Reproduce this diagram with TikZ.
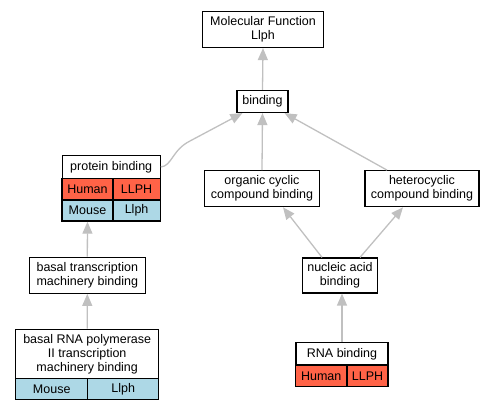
\documentclass[tikz,border=0pt]{standalone}
\usepackage{fontspec}
\setmainfont{Liberation Sans}
\usetikzlibrary{arrows.meta}
\definecolor{edgegray}{RGB}{192,192,192}
\definecolor{human}{RGB}{255,99,71}
\definecolor{mouse}{RGB}{173,216,230}
\tikzset{
  box/.style={draw=black, line width=1.2pt, fill=white, inner sep=0pt, align=center,
    font=\fontsize{12.5}{14}\selectfont},
  cellbox/.style={draw=black, line width=1.2pt, inner sep=0pt, align=center,
    font=\fontsize{12.5}{14}\selectfont},
  humancell/.style={cellbox, fill=human},
  mousecell/.style={cellbox, fill=mouse},
  edge/.style={draw=edgegray, line width=1.3pt, -{Triangle[length=12pt,width=10pt]}},
}
\begin{document}
\begin{tikzpicture}[x=1pt,y=-1pt]
\useasboundingbox (0,0) rectangle (496,411);
% plain boxes
\node[box, minimum width=121pt, minimum height=36pt] (mf) at (263,29.5) {Molecular Function\\Llph};
\node[box, minimum width=51pt, minimum height=22pt] (binding) at (262.5,101.5) {binding};
\node[box, minimum width=115pt, minimum height=36pt] (organic) at (262,188.7) {organic cyclic\\compound binding};
\node[box, minimum width=114pt, minimum height=36pt] (hetero) at (422,188.7) {heterocyclic\\compound binding};
\node[box, minimum width=116pt, minimum height=36pt] (basaltr) at (87.3,275.3) {basal transcription\\machinery binding};
\node[box, minimum width=75pt, minimum height=35pt] (nucleic) at (340,275.5) {nucleic acid\\binding};
% protein binding table
\node[box, minimum width=98pt, minimum height=22.5pt] (protein) at (111.2,167) {protein binding};
\node[humancell, minimum width=51pt, minimum height=22pt] (pbhuman) at (87.5,189.2) {Human};
\node[humancell, minimum width=47pt, minimum height=22pt] (pbllph) at (136.6,189.2) {LLPH};
\node[mousecell, minimum width=51pt, minimum height=21pt] (pbmouse) at (87.5,210.6) {Mouse};
\node[mousecell, minimum width=47pt, minimum height=21pt] (pbllphm) at (136.6,210.6) {Llph};
% basal RNA polymerase table
\node[box, minimum width=143pt, minimum height=49pt] (basalrna) at (87.2,353.8) {basal RNA polymerase\\II transcription\\machinery binding};
\node[mousecell, minimum width=72pt, minimum height=21pt] (brmouse) at (51.7,388.8) {Mouse};
\node[mousecell, minimum width=71pt, minimum height=21pt] (brllph) at (123.2,388.8) {Llph};
% RNA binding table
\node[box, minimum width=92pt, minimum height=22.5pt] (rna) at (342,354) {RNA binding};
\node[humancell, minimum width=51pt, minimum height=21.5pt] (rnahuman) at (321.2,375.8) {Human};
\node[humancell, minimum width=41pt, minimum height=21.5pt] (rnallph) at (367.5,375.8) {LLPH};
% edges
\draw[edge] (binding.north) -- (mf.south);
\draw[edge] (organic.north) -- (binding.south);
\draw[edge] ([xshift=-35pt]hetero.north) -- ([xshift=-4pt]binding.south east);
\draw[edge] (protein.east) .. controls (172,166) and (172,150) .. (190,141) -- ([xshift=6pt]binding.south west);
\draw[edge] ([xshift=-18pt]nucleic.north) -- ([xshift=21pt]organic.south);
\draw[edge] ([xshift=20pt]nucleic.north) -- ([xshift=-19pt]hetero.south);
\draw[edge] (rna.north) -- (rna.north |- nucleic.south);
\draw[edge] (basaltr.north) -- (pbmouse.south);
\draw[edge] (basalrna.north) -- (basaltr.south);
\end{tikzpicture}
\end{document}
